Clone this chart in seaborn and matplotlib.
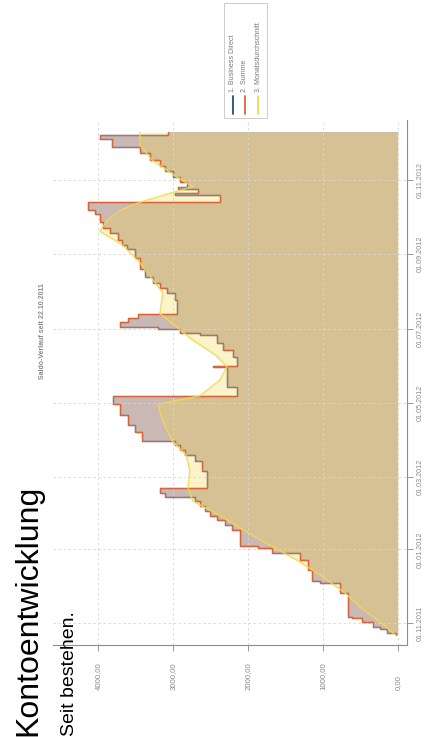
import matplotlib
matplotlib.use("Agg")
import matplotlib.pyplot as plt
import matplotlib.dates as mdates
import matplotlib.transforms as mtransforms
from matplotlib.lines import Line2D
from matplotlib.patches import Rectangle
import pandas as pd
import seaborn as sns

# Balance changes: date the new balance took effect, balance in EUR
saldo_dates = [
    "2011-10-22", "2011-10-24", "2011-10-27", "2011-10-29", "2011-11-02", "2011-11-05",
    "2011-11-06", "2011-11-26", "2011-12-04", "2011-12-06", "2011-12-15", "2011-12-23",
    "2011-12-29", "2012-01-02", "2012-01-04", "2012-01-17", "2012-01-21", "2012-01-25",
    "2012-01-29", "2012-02-02", "2012-02-06", "2012-02-10", "2012-02-13", "2012-02-17",
    "2012-02-21", "2012-03-06", "2012-03-14", "2012-03-19", "2012-03-23", "2012-03-27",
    "2012-03-31", "2012-04-07", "2012-04-13", "2012-04-21", "2012-04-30", "2012-05-07",
    "2012-05-14", "2012-05-31", "2012-06-01", "2012-06-08", "2012-06-14", "2012-06-20",
    "2012-06-26", "2012-06-28", "2012-07-01", "2012-07-03", "2012-07-07", "2012-07-10",
    "2012-07-14", "2012-07-25", "2012-07-31", "2012-08-04", "2012-08-08", "2012-08-13",
    "2012-08-20", "2012-08-29", "2012-09-05", "2012-09-09", "2012-09-13", "2012-09-19",
    "2012-09-23", "2012-09-28", "2012-10-04", "2012-10-08", "2012-10-14", "2012-10-20",
    "2012-10-22", "2012-10-25", "2012-10-27", "2012-10-31", "2012-11-04", "2012-11-09",
    "2012-11-13", "2012-11-18", "2012-11-24", "2012-11-29", "2012-12-05", "2012-12-09",
    "2012-12-11",
]
business_direct = [
    25, 145, 240, 335, 480, 610,
    665, 775, 1040, 1145, 1200, 1305,
    1680, 1865, 2105, 2215, 2305, 2415,
    2505, 2575, 2640, 2705, 3105, 3175,
    2545, 2615, 2705, 2840, 2905, 2975,
    3415, 3505, 3600, 3705, 3800, 2145,
    2280, 2465, 2145, 2200, 2335, 2415,
    2640, 2905, 3200, 3705, 3600, 3465,
    2945, 2975, 3080, 3175, 3265, 3375,
    3440, 3505, 3615, 3680, 3735, 3840,
    3935, 3975, 4040, 4135, 2375, 2975,
    2665, 2935, 2815, 2905, 3000, 3105,
    3175, 3305, 3440, 3815, 3975, 3065,
    3065,
]
# Only one account, so the sum equals the Business Direct balance
summe = list(business_direct)

# Monthly average balance
avg_dates = [
    "2011-10-22", "2011-11-02", "2011-11-13", "2011-11-26", "2011-12-11", "2011-12-23",
    "2012-01-11", "2012-01-29", "2012-02-10", "2012-02-21", "2012-03-06", "2012-03-19",
    "2012-03-31", "2012-04-17", "2012-04-30", "2012-05-07", "2012-05-20", "2012-05-31",
    "2012-06-10", "2012-06-22", "2012-07-14", "2012-07-31", "2012-08-14", "2012-08-25",
    "2012-09-09", "2012-09-20", "2012-09-30", "2012-10-08", "2012-10-14", "2012-10-27",
    "2012-11-05", "2012-11-18", "2012-11-30", "2012-12-11",
]
avg_values = [
    30, 240, 480, 705, 1040, 1345,
    1895, 2375, 2735, 2800, 2775, 2825,
    3015, 3145, 3200, 2640, 2375, 2280,
    2440, 2735, 3175, 3135, 3305, 3440,
    3680, 3975, 3865, 3680, 3440, 2735,
    2975, 3280, 3440, 3440,
]

series_names = ["1. Business Direct", "2. Summe", "3. Monatsdurchschnitt"]
date_ticks = ["2011-11-01", "2012-01-01", "2012-03-01", "2012-05-01",
              "2012-07-01", "2012-09-01", "2012-11-01"]
value_ticks = [0, 1000, 2000, 3000, 4000]

blue, orange, yellow = "#1f5682", "#d9653a", "#f3d84e"

sns.set_theme(style="white")
plt.rcParams["font.family"] = ["Liberation Sans", "DejaVu Sans"]

d_saldo = mdates.date2num(pd.to_datetime(saldo_dates))
d_avg = mdates.date2num(pd.to_datetime(avg_dates))
d_ticks = mdates.date2num(pd.to_datetime(date_ticks))

fig = plt.figure(figsize=(4.26, 7.37), dpi=100)
# Chart is laid out sideways: balance runs right-to-left, time runs upward
ax = fig.add_axes([53 / 426, 92 / 737, 354 / 426, 525 / 737])

ax.fill_betweenx(d_saldo, 0, business_direct, step="post", color=blue, alpha=0.25, lw=0, zorder=1)
ax.fill_betweenx(d_saldo, 0, summe, step="post", color=orange, alpha=0.25, lw=0, zorder=1)
ax.fill_betweenx(d_avg, 0, avg_values, color=yellow, alpha=0.3, lw=0, zorder=1)

sns.lineplot(x=business_direct, y=d_saldo, orient="y", sort=False, estimator=None,
             drawstyle="steps-pre", color=blue, lw=0.9, ax=ax, zorder=3)
sns.lineplot(x=summe, y=d_saldo, orient="y", sort=False, estimator=None,
             drawstyle="steps-pre", color=orange, lw=0.9, ax=ax, zorder=4)
sns.lineplot(x=avg_values, y=d_avg, orient="y", sort=False, estimator=None,
             color=yellow, lw=1.1, alpha=0.85, ax=ax, zorder=5)

ax.set_xlim(4600, -120)
ax.set_ylim(mdates.date2num(pd.Timestamp("2011-10-14")), mdates.date2num(pd.Timestamp("2012-12-21")))
ax.set_xlabel("")
ax.set_ylabel("")

# Balance axis: tick marks on the axis, labels share a common far end
ax.set_xticks(value_ticks)
ax.set_xticklabels([])
label_tf = mtransforms.blended_transform_factory(ax.transData, fig.transFigure)
for v in value_ticks:
    ax.text(v, 1 - 690 / 737, f"{v:.2f}".replace(".", ","), transform=label_tf,
            rotation=90, ha="center", va="bottom", fontsize=5.6, color="#8a8a8a")

ax.yaxis.tick_right()
ax.set_yticks(d_ticks)
ax.yaxis.set_major_formatter(mdates.DateFormatter("%d.%m.%Y"))
ax.tick_params(axis="x", bottom=True, length=4, width=0.6, color="#888888")
ax.tick_params(axis="y", right=True, left=False, length=4, width=0.6, color="#888888",
               labelsize=5.2, labelcolor="#8a8a8a", labelrotation=90, pad=3)
for lab in ax.get_yticklabels():
    lab.set_va("center")

ax.grid(True, ls=(0, (3, 3)), color="#d6d6d6", lw=0.6)
ax.set_axisbelow(False)
for side in ("left", "top"):
    ax.spines[side].set_visible(False)
for side in ("bottom", "right"):
    ax.spines[side].set_color("#8c8c8c")
    ax.spines[side].set_linewidth(0.8)

fig.text(43 / 426, 1 - 331 / 737, "Saldo-Verlauf seit 22.10.2011", rotation=90,
         ha="center", va="center", fontsize=5, color="#8a8a8a", fontweight="bold")

# Legend box with vertical line samples
fig.add_artist(Rectangle((224 / 426, 1 - 118 / 737), 43 / 426, 115 / 737,
                         transform=fig.transFigure, facecolor="white",
                         edgecolor="#c4c4c4", lw=0.6))
for xpix, col, name in zip([233, 245, 258], ["#1e4f78", orange, yellow], series_names):
    fig.add_artist(Line2D([xpix / 426] * 2, [1 - 114 / 737, 1 - 96 / 737],
                          transform=fig.transFigure, color=col, lw=1.3))
    fig.text(xpix / 426, 1 - 92 / 737, name, rotation=90, ha="center", va="bottom",
             fontsize=5.0, color="#7a7a7a")

fig.text(36 / 426, 0.002, "Kontoentwicklung", rotation=90, rotation_mode="anchor",
         ha="left", va="baseline", fontsize=23, color="black")
fig.text(74 / 426, 0.002, "Seit bestehen.", rotation=90, rotation_mode="anchor",
         ha="left", va="baseline", fontsize=14, color="black")

fig.savefig("out.png", dpi=100)
